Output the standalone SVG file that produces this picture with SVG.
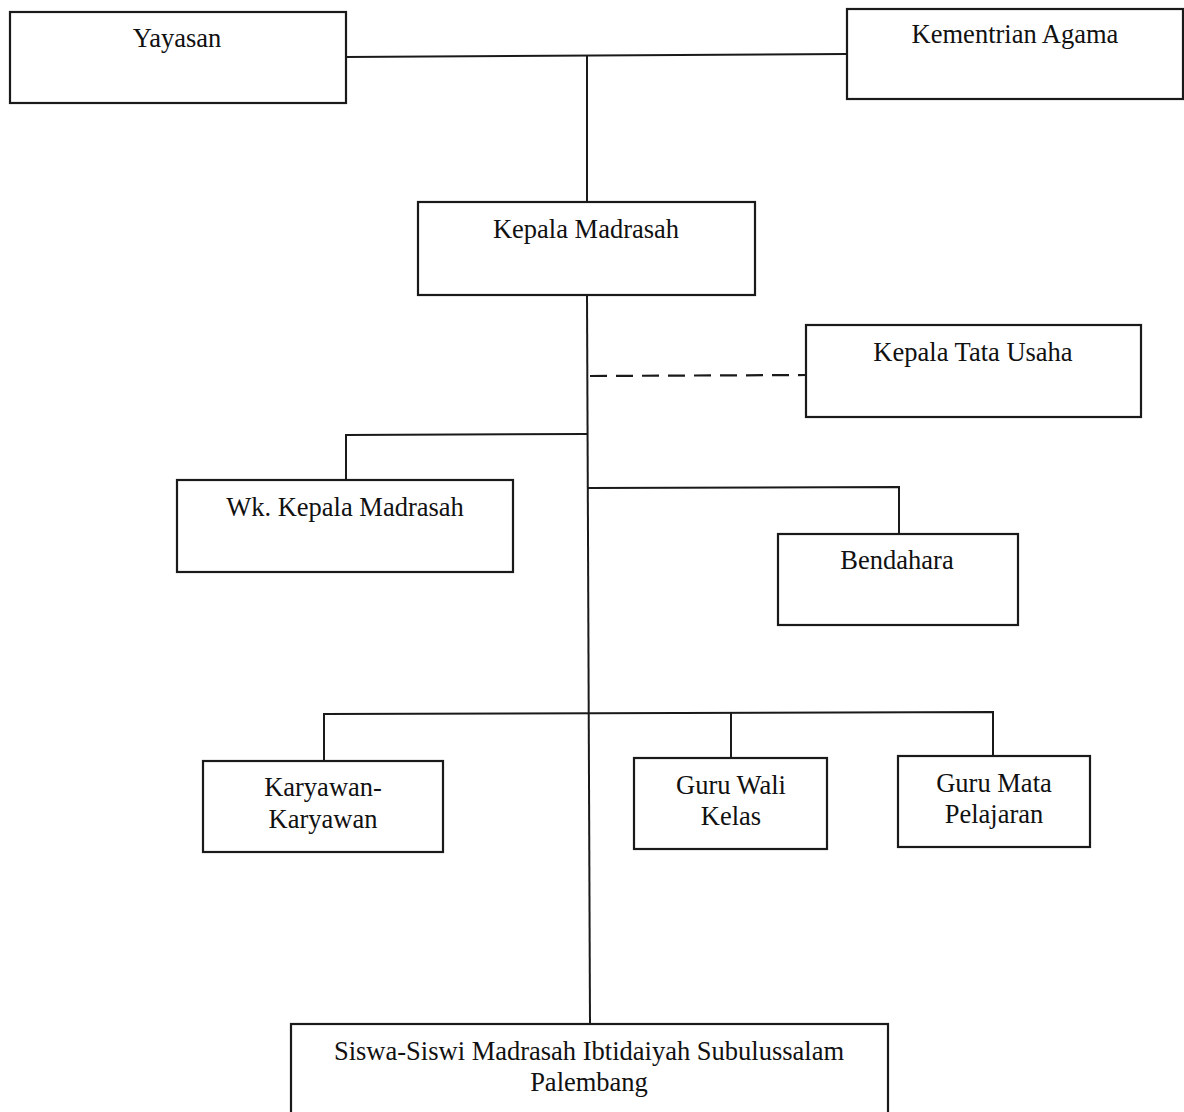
<svg xmlns="http://www.w3.org/2000/svg" width="1184" height="1112" viewBox="0 0 1184 1112">
<style>
.box{fill:#fff;stroke:#1a1a1a;stroke-width:2.2}
.t{font-family:"Liberation Serif","Times New Roman",serif;font-size:26.5px;fill:#111;text-anchor:middle}
.c{fill:none;stroke:#1a1a1a;stroke-width:2}
.d{fill:none;stroke:#1a1a1a;stroke-width:2.2;stroke-dasharray:17,9}
</style>
<rect width="1184" height="1112" fill="#fff"/>
<g id="connectors">
<line class="c" x1="346" y1="57" x2="847" y2="54"/>
<line class="c" x1="587" y1="56" x2="587" y2="203"/>
<line class="c" x1="587" y1="295" x2="590" y2="1024"/>
<line class="d" x1="590" y1="376" x2="806" y2="375"/>
<polyline class="c" points="587,434 346,435 346,480"/>
<polyline class="c" points="588,488 899,487 899,534"/>
<polyline class="c" points="324,762 324,714 993,712 993,756"/>
<line class="c" x1="731" y1="713" x2="731" y2="758"/>
</g>
<g id="yayasan"><rect class="box" x="10" y="12" width="336" height="91"/><text class="t" x="177" y="47">Yayasan</text></g>
<g id="kementrian"><rect class="box" x="847" y="9" width="336" height="90"/><text class="t" x="1015" y="43">Kementrian Agama</text></g>
<g id="kepala"><rect class="box" x="418" y="202" width="337" height="93"/><text class="t" x="586" y="238">Kepala Madrasah</text></g>
<g id="tatausaha"><rect class="box" x="806" y="325" width="335" height="92"/><text class="t" x="973" y="361">Kepala Tata Usaha</text></g>
<g id="wakil"><rect class="box" x="177" y="480" width="336" height="92"/><text class="t" x="345" y="516">Wk. Kepala Madrasah</text></g>
<g id="bendahara"><rect class="box" x="778" y="534" width="240" height="91"/><text class="t" x="897" y="569">Bendahara</text></g>
<g id="karyawan"><rect class="box" x="203" y="761" width="240" height="91"/><text class="t" x="323" y="796">Karyawan-</text><text class="t" x="323" y="828">Karyawan</text></g>
<g id="guruwali"><rect class="box" x="634" y="758" width="193" height="91"/><text class="t" x="731" y="794">Guru Wali</text><text class="t" x="731" y="825">Kelas</text></g>
<g id="gurumapel"><rect class="box" x="898" y="756" width="192" height="91"/><text class="t" x="994" y="792">Guru Mata</text><text class="t" x="994" y="823">Pelajaran</text></g>
<g id="siswa"><rect class="box" x="291" y="1024" width="597" height="100"/><text class="t" x="589" y="1060">Siswa-Siswi Madrasah Ibtidaiyah Subulussalam</text><text class="t" x="589" y="1091">Palembang</text></g>
</svg>
